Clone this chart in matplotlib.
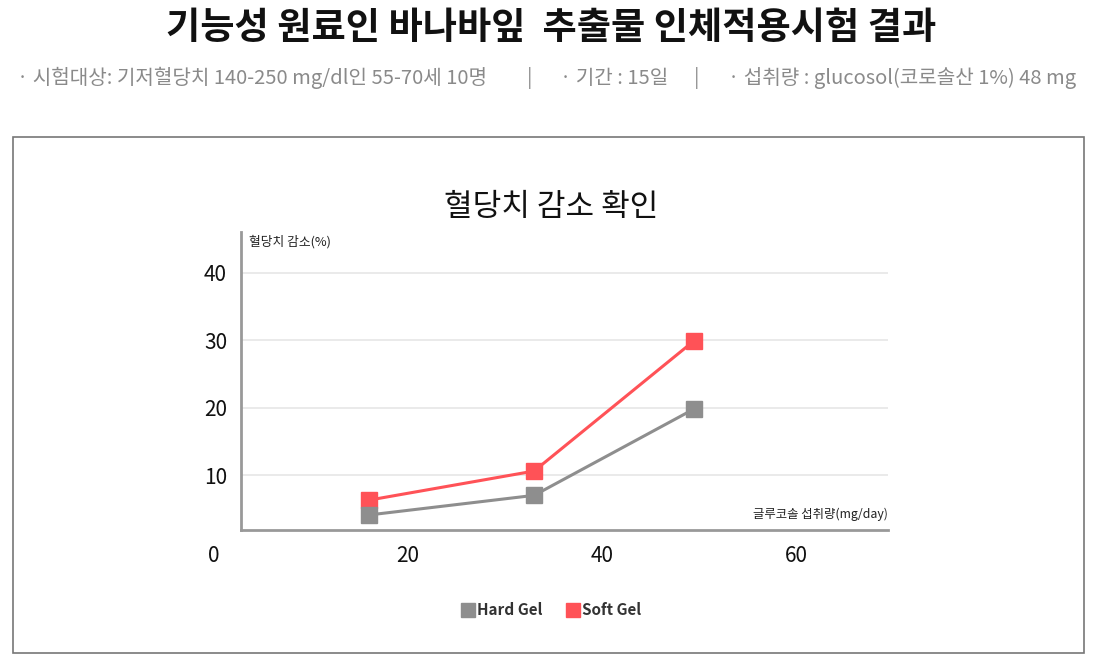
import matplotlib
matplotlib.use("Agg")
import matplotlib.pyplot as plt
from matplotlib.patches import Rectangle
from matplotlib.lines import Line2D

plt.rcParams['font.family'] = ['Noto Sans CJK KR', 'DejaVu Sans']

# ---- data ----
dose = [16, 33, 49.5]                 # 글루코솔 섭취량 (mg/day)
hard_gel = [4.1, 7.0, 19.8]           # 혈당치 감소 (%)
soft_gel = [6.3, 10.6, 29.9]
x_ticks = [0, 20, 40, 60]
y_ticks = [10, 20, 30, 40]
series_names = ['Hard Gel', 'Soft Gel']

title = '기능성 원료인 바나바잎  추출물 인체적용시험 결과'
sub_parts = ['· 시험대상: 기저혈당치 140-250 mg/dl인 55-70세 10명', '|',
             '· 기간 : 15일', '|', '· 섭취량 : glucosol(코로솔산 1%) 48 mg']
chart_title = '혈당치 감소 확인'
y_label = '혈당치 감소(%)'
x_label = '글루코솔 섭취량(mg/day)'

GRAY = '#8e8e8e'
RED = '#ff5257'

W, H = 1102, 665
fig = plt.figure(figsize=(W / 100, H / 100), dpi=100)

def fx(px):
    return px / W

def fy(py):
    return 1 - py / H

# Header
fig.text(0.5, fy(28), title, ha='center', va='center', fontsize=26.8,
         fontweight='black', color='#111111')
sub_x = [17, 527, 560, 694, 728]
for s, px in zip(sub_parts, sub_x):
    fig.text(fx(px), fy(78), s, ha='left', va='center', fontsize=14.5,
             color='#8a8a8a')

# Frame box
fig.patches.append(Rectangle((fx(13), fy(653)), fx(1084) - fx(13), fy(137) - fy(653),
                             transform=fig.transFigure, fill=False,
                             edgecolor='#777777', linewidth=1.2))

fig.text(0.5, fy(208), chart_title, ha='center', va='center', fontsize=22.4,
         color='#111111')

# Axes: x=0 at px 214, slope 9.7 px/unit ; y from 1.87 to 46
x0_px, xslope = 214, 9.7
x_left = 0
x_spine = (241 - x0_px) / xslope
x_right = (888 - x0_px) / xslope
y_bot, y_top = 1.87, 46.0
ax = fig.add_axes([fx(x0_px), fy(530), fx(888) - fx(x0_px), fy(232) - fy(530)])
ax.set_xlim(x_left, x_right)
ax.set_ylim(y_bot, y_top)

for sp in ['top', 'right']:
    ax.spines[sp].set_visible(False)
ax.spines['left'].set_position(('data', x_spine))
ax.spines['bottom'].set_bounds(x_spine, x_right)
for sp in ['left', 'bottom']:
    ax.spines[sp].set_color('#999999')
    ax.spines[sp].set_linewidth(2)

ax.hlines(y_ticks, x_spine, x_right, colors='#e6e6e6', linewidth=1.2, zorder=0)

ax.set_xticks(x_ticks)
ax.set_yticks(y_ticks)
ax.tick_params(axis='both', length=0, labelsize=15, labelcolor='#111111')
ax.tick_params(axis='x', pad=11)
ax.tick_params(axis='y', pad=10)

ax.plot(dose, soft_gel, color=RED, linewidth=2.2, marker='s', markersize=11,
        zorder=3)
ax.plot(dose, hard_gel, color=GRAY, linewidth=2.2, marker='s', markersize=11,
        zorder=3)

ax.text(x_spine + 0.8, 44.5, y_label, ha='left', va='center', fontsize=9.2,
        color='#222222')
ax.text(x_right, 4.2, x_label, ha='right', va='center', fontsize=8.9,
        color='#222222')

handles = [Line2D([], [], linestyle='none', marker='s', markersize=10, color=GRAY),
           Line2D([], [], linestyle='none', marker='s', markersize=10, color=RED)]
leg = fig.legend(handles, series_names, loc='center', bbox_to_anchor=(0.5, fy(610)),
                 ncol=2, frameon=False, handletextpad=0.1, columnspacing=1.5,
                 prop={'size': 11, 'weight': 'bold'}, handlelength=1.0)
for t in leg.get_texts():
    t.set_color('#333333')

fig.savefig('out.png', dpi=100, facecolor='white')
